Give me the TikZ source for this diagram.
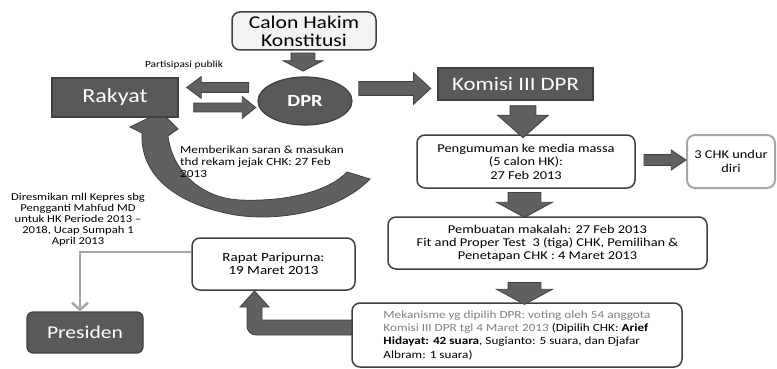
\documentclass[tikz,border=0pt]{standalone}
\usepackage{fontspec}
\setmainfont{Carlito}[FakeStretch=1.2]
\usetikzlibrary{shapes.geometric,shapes.arrows,arrows.meta,backgrounds}
\definecolor{boxgrey}{RGB}{89,89,89}
\definecolor{edgegrey}{RGB}{64,64,64}
\definecolor{arrowgrey}{RGB}{96,96,96}
\definecolor{linegrey}{RGB}{166,166,166}
\definecolor{notegrey}{RGB}{128,128,128}
\definecolor{calongrey}{RGB}{243,243,243}
\tikzset{
  darkbox/.style={draw=edgegrey, fill=boxgrey, line width=1.2pt, text=white,
    inner sep=0pt, align=center},
  whitebox/.style={draw=edgegrey, fill=white, line width=1.5pt,
    rounded corners=8pt, inner sep=0pt, align=center},
  blockarrow/.style={single arrow, draw=edgegrey, fill=arrowgrey,
    line width=0.8pt, inner xsep=0pt},
  note/.style={inner sep=0pt},
}

\begin{document}
\begin{tikzpicture}[x=1pt,y=-1pt]
  \useasboundingbox (0,0) rectangle (777,369);

  % Boxes
  \node[whitebox, fill=calongrey, minimum width=144pt, minimum height=38pt,
    font=\fontsize{18}{18}\selectfont] (calon) at (304,31) {Calon Hakim\\Konstitusi};
  \node[ellipse, draw=edgegrey, fill=boxgrey, line width=1.2pt, text=white,
    minimum width=94pt, minimum height=48pt, inner sep=0pt,
    font=\fontsize{17}{17}\selectfont\bfseries] (dpr) at (305,101) {DPR};
  \node[darkbox, minimum width=126pt, minimum height=39pt,
    font=\fontsize{20}{20}\selectfont] (rakyat) at (115,97.5) {Rakyat};
  \node[darkbox, minimum width=155pt, minimum height=32pt,
    font=\fontsize{19}{19}\selectfont] (komisi) at (515.5,84) {Komisi III DPR};
  \node[whitebox, minimum width=218pt, minimum height=53pt,
    font=\fontsize{12}{13.5}\selectfont] (umum) at (526,161.5)
    {Pengumuman ke media massa\\(5 calon HK):\\27 Feb 2013};
  \node[whitebox, draw=linegrey, line width=2pt, minimum width=88pt, minimum height=53pt,
    font=\fontsize{12}{13.5}\selectfont] (undur) at (731,161.5) {3 CHK undur\\diri};
  \node[whitebox, minimum width=319pt, minimum height=52pt,
    font=\fontsize{12}{13}\selectfont] (makalah) at (547.5,243)
    {Pembuatan makalah: 27 Feb 2013\\Fit and Proper Test~~3 (tiga) CHK, Pemilihan \&\\Penetapan CHK : 4 Maret 2013};
  \node[whitebox, minimum width=330pt, minimum height=64pt, align=left,
    font=\fontsize{11}{13.3}\selectfont] (voting) at (517,335)
    {\textcolor{notegrey}{Mekanisme yg dipilih DPR: voting oleh 54 anggota}\\
     \textcolor{notegrey}{Komisi III DPR tgl 4 Maret 2013} (Dipilih CHK: \textbf{Arief}\\
     \textbf{Hidayat: 42 suara}, Sugianto: 5 suara, dan Djafar\\
     Albram: 1 suara)};
  \node[whitebox, minimum width=163pt, minimum height=52pt,
    font=\fontsize{12.5}{13}\selectfont] (rapat) at (273.5,264) {Rapat Paripurna:\\19 Maret 2013};
  \node[darkbox, rounded corners=6pt, minimum width=116pt, minimum height=41pt,
    font=\fontsize{18}{18}\selectfont] (presiden) at (85,332.5) {Presiden};

  % Labels
  \node[note, font=\fontsize{9.5}{11}\selectfont] (partisipasi) at (184,65) {Partisipasi publik};
  \node[note, anchor=north west, align=left, font=\fontsize{11}{12}\selectfont] (saran)
    at (180,146) {Memberikan saran \& masukan\\thd rekam jejak CHK: 27 Feb\\2013};
  \node[note, align=center, font=\fontsize{10.5}{11}\selectfont] (resmi) at (78,220)
    {Diresmikan mll Kepres sbg\\Pengganti Mahfud MD\\untuk HK Periode 2013 --\\2018, Ucap Sumpah 1\\April 2013};

  % Block arrows
  \node[blockarrow, rotate=-90, minimum height=18pt, inner ysep=11.5pt,
    single arrow head extend=8pt, single arrow tip angle=125] (calonarr) at (303,59) {};
  \node[blockarrow, rotate=180, minimum height=62pt, inner ysep=4.5pt,
    single arrow head extend=6pt, single arrow tip angle=74] (kiriarr) at (221,87.5) {};
  \node[blockarrow, minimum height=62pt, inner ysep=4pt,
    single arrow head extend=6.5pt, single arrow tip angle=78] (kananarr) at (222,107.5) {};
  \node[blockarrow, minimum height=72pt, inner ysep=6.5pt,
    single arrow head extend=9pt, single arrow tip angle=85] (komisiarr) at (391,88.5) {};
  \node[blockarrow, rotate=-90, minimum height=32pt, inner ysep=12.5pt,
    single arrow head extend=12.5pt, single arrow tip angle=97] (umumarr) at (523,116) {};
  \node[blockarrow, minimum height=42pt, inner ysep=5pt,
    single arrow head extend=4.5pt, single arrow tip angle=68] (undurarr) at (661,160) {};
  \node[blockarrow, rotate=-90, minimum height=25pt, inner ysep=16pt,
    single arrow head extend=11.5pt, single arrow tip angle=123] (makalaharr) at (524.5,200.5) {};
  \node[blockarrow, rotate=-90, minimum height=22pt, inner ysep=16pt,
    single arrow head extend=11.5pt, single arrow tip angle=123] (votingarr) at (524.5,289) {};

  % Presiden line
  \draw[line width=2.5pt, linegrey, -{Straight Barb[length=7pt,width=16pt]}]
    ([yshift=12pt]rapat.west) -| ([xshift=-5pt]presiden.north);

  \begin{scope}[on background layer]
    % Bent arrow to Rapat Paripurna
    \filldraw[draw=edgegrey, fill=arrowgrey, line width=0.8pt]
      (360,320) -- (262,320) -- (262,307) -- (269,307) -- (254.5,291) -- (240,307)
      -- (247,307) [rounded corners=9pt] -- (247,335) -- (360,335) -- cycle;
    % Curved arrow back to Rakyat
    \filldraw[draw=edgegrey, fill=arrowgrey, line width=0.8pt]
      (370,179) .. controls (335,215) and (270,222) .. (230,214)
      .. controls (175,203) and (140,175) .. (142,133)
      -- (130,127) -- (161,112) -- (178,129) -- (168,136)
      .. controls (172,170) and (200,198) .. (240,200)
      .. controls (290,202) and (330,190) .. (347,172) -- cycle;
  \end{scope}
\end{tikzpicture}
\end{document}
